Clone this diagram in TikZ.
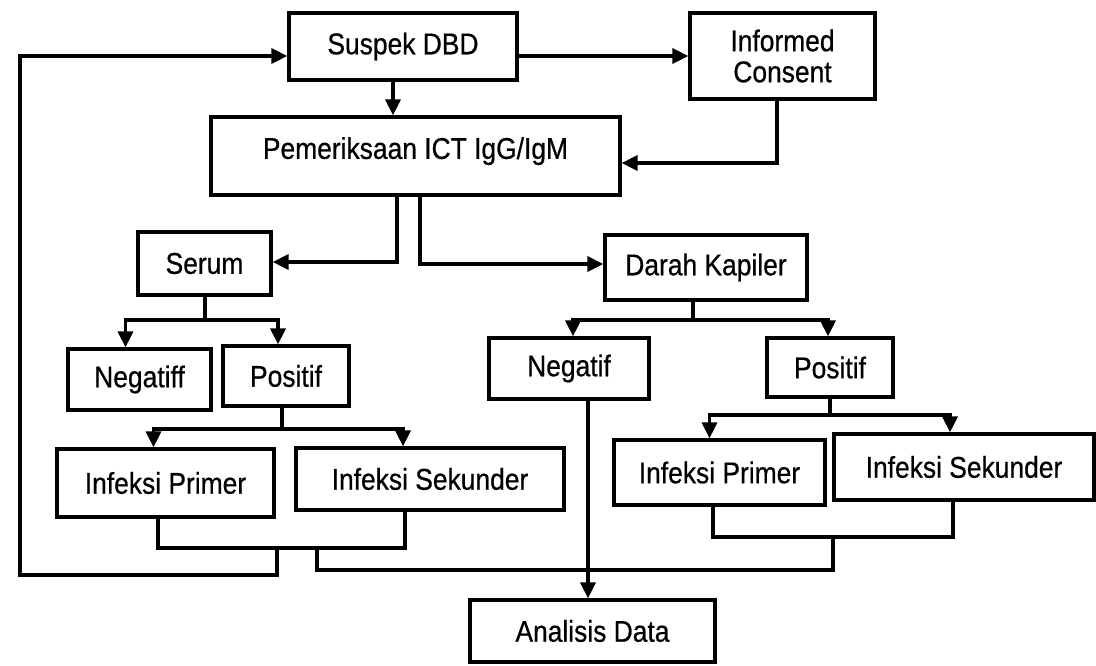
\documentclass[tikz,border=0pt]{standalone}
\usepackage{fontspec}
\setmainfont{Liberation Sans}[FakeStretch=0.88,FakeBold=0.6]
\usetikzlibrary{arrows.meta}
\begin{document}
\begin{tikzpicture}[x=1pt,y=-1pt,
  box/.style={draw, line width=3.2pt, inner sep=0pt, align=center,
    font=\fontsize{30}{31}\selectfont},
  link/.style={line width=3.2pt, line join=miter},
  arr/.style={link, -{Triangle[length=16pt,width=15pt]}}]
\useasboundingbox (0,0) rectangle (1096,665);

% boxes
\node[box, minimum width=228pt, minimum height=67pt] (sus) at (403,46.5) {Suspek DBD};
\node[box, minimum width=185pt, minimum height=86pt] (inf) at (782.5,56) {Informed\\Consent};
\node[box, minimum width=409pt, minimum height=78pt] (pem) at (415.5,156) {\raisebox{16pt}{Pemeriksaan ICT IgG/IgM}};
\node[box, minimum width=133pt, minimum height=63pt] (ser) at (204.5,263.5) {Serum};
\node[box, minimum width=202pt, minimum height=65pt] (dar) at (706,267.5) {Darah Kapiler};
\node[box, minimum width=143pt, minimum height=61pt] (negL) at (139.5,379.5) {Negatiff};
\node[box, minimum width=126pt, minimum height=60pt] (posL) at (286,376) {Positif};
\node[box, minimum width=217pt, minimum height=68pt] (ipL) at (165.5,483) {Infeksi Primer};
\node[box, minimum width=268pt, minimum height=62pt] (isL) at (430,479) {Infeksi Sekunder};
\node[box, minimum width=160pt, minimum height=61pt] (negR) at (569,368.5) {Negatif};
\node[box, minimum width=126pt, minimum height=59pt] (posR) at (830,367.5) {Positif};
\node[box, minimum width=211pt, minimum height=65pt] (ipR) at (719.5,472.5) {Infeksi Primer};
\node[box, minimum width=260pt, minimum height=66pt] (isR) at (964,467) {Infeksi Sekunder};
\node[box, minimum width=245pt, minimum height=62pt] (ana) at (592.5,631) {Analisis Data};

% bend points
\coordinate (c1) at (777,163);
\coordinate (c2) at (397,262);
\coordinate (c3) at (420,264);
\coordinate (c4) at (205,320);
\coordinate (c5) at (282,429);
\coordinate (c6) at (693,320);
\coordinate (c7) at (830,415);
\coordinate (bl1) at (158,548);
\coordinate (bl2) at (405,548);
\coordinate (br1) at (713,537);
\coordinate (br2) at (953,537);
\coordinate (fb1) at (277,548);
\coordinate (fb2) at (277,575);
\coordinate (fb3) at (20,575);
\coordinate (fb4) at (20,56);
\coordinate (jn1) at (317,548);
\coordinate (jn2) at (317,570);
\coordinate (jn3) at (833,570);
\coordinate (jn4) at (833,537);
\coordinate (ng) at (588,0);

% top
\draw[arr] (sus.east |- inf.west) -- (inf.west);
\draw[arr] ([xshift=-10pt]sus.south) -- ([xshift=-10pt]sus.south |- pem.north);
\draw[arr] (inf.south -| c1) -- (c1) -- (pem.east |- c1);

% split into serum and capillary blood
\draw[arr] (pem.south -| c2) -- (c2) -- (ser.east |- c2);
\draw[arr] (pem.south -| c3) -- (c3) -- (dar.west |- c3);

% serum branch
\draw[link] (ser.south -| c4) -- (c4);
\draw[arr] (c4) -| ([xshift=-14pt]negL.north);
\draw[arr] (c4) -| ([xshift=-8pt]posL.north);
\draw[link] (posL.south -| c5) -- (c5);
\draw[arr] (c5) -| ([xshift=-12pt]ipL.north);
\draw[arr] (c5) -| ([xshift=-27pt]isL.north);

% capillary blood branch
\draw[link] (dar.south -| c6) -- (c6);
\draw[arr] (c6) -| ([xshift=4pt]negR.north);
\draw[arr] (c6) -| ([xshift=-2pt]posR.north);
\draw[link] (posR.south -| c7) -- (c7);
\draw[arr] (c7) -| ([xshift=-10pt]ipR.north);
\draw[arr] (c7) -| ([xshift=-14pt]isR.north);

% result brackets
\draw[link] (ipL.south -| bl1) -- (bl1) -- (bl2) -- (isL.south -| bl2);
\draw[link] (ipR.south -| br1) -- (br1) -- (br2) -- (isR.south -| br2);

% feedback loop and joining line
\draw[arr] (fb1) -- (fb2) -- (fb3) -- (fb4) -- (sus.west |- fb4);
\draw[link] (jn1) -- (jn2) -- (jn3) -- (jn4);

% negative result to analysis
\draw[arr] (negR.south -| ng) -- (ana.north -| ng);
\end{tikzpicture}
\end{document}
